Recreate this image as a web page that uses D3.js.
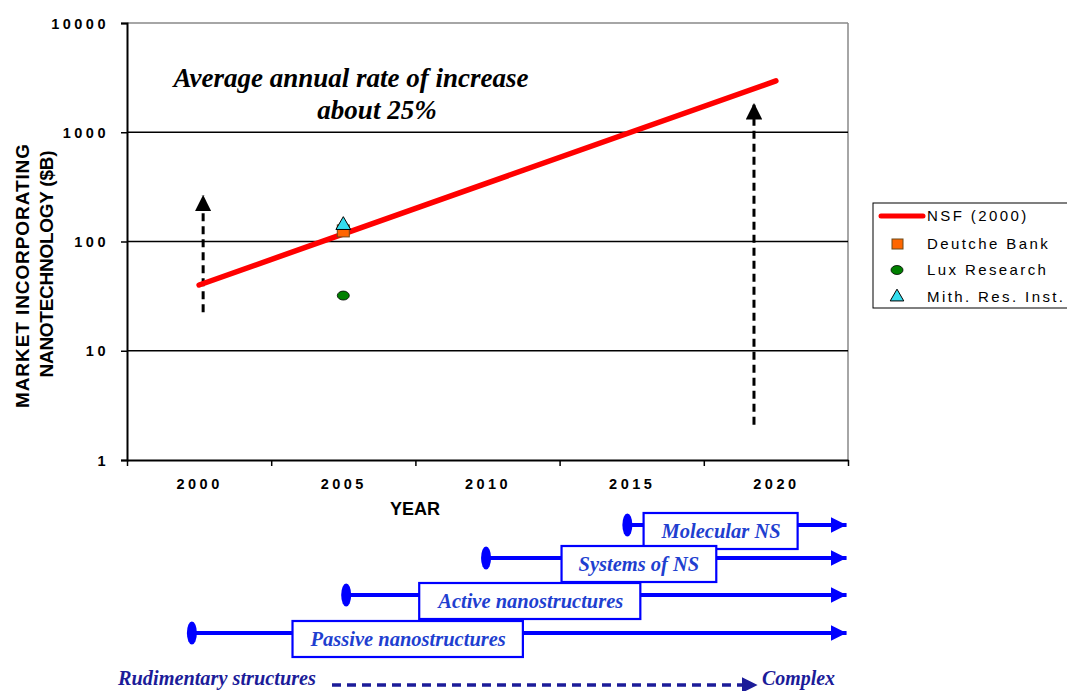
<!DOCTYPE html>
<html>
<head>
<meta charset="utf-8">
<script src="https://cdn.jsdelivr.net/npm/d3@7"></script>
<style>
  body { margin: 0; background: #fff; }
  svg { display: block; }
  .tick text { font-family: "Liberation Sans", Arial, sans-serif; font-weight: bold; font-size: 14.5px; letter-spacing: 3.5px; fill: #000; }
</style>
</head>
<body>
<div id="chart"></div>
<script>
// chart data
const yearLabels = [2000, 2005, 2010, 2015, 2020];
const yTicks = [1, 10, 100, 1000, 10000];
const gridValues = [10, 100, 1000];

const nsfYears = [2000, 2020];
const nsfValues = [40, 2950];

const deutcheBank = [{ year: 2005, value: 125 }];
const luxResearch = [{ year: 2005, value: 32 }];
const mithResInst = [{ year: 2005, value: 141 }];

// dashed uncertainty arrows
const arrowYears = [2000.14, 2019.24];
const arrowFrom = [22.5, 2.1];
const arrowTo = [267, 1850];

// nanostructure generations (timeline below chart)
const stageNames = ['Molecular NS', 'Systems of NS', 'Active nanostructures', 'Passive nanostructures'];
const stageStart = [2014.85, 2009.95, 2005.1, 1999.75];
const stageLabelAt = [2018.1, 2015.25, 2011.5, 2007.25];
const stageEnd = 2022.45;

const legendNames = ['NSF (2000)', 'Deutche Bank', 'Lux Research', 'Mith. Res. Inst.'];

const width = 1067, height = 691;
const plotLeft = 127, plotRight = 848, plotTop = 23, plotBottom = 460;

const svg = d3.select('#chart').append('svg')
    .attr('width', width)
    .attr('height', height);

const x = d3.scaleLinear().domain([1997.5, 2022.5]).range([plotLeft, plotRight]);
const y = d3.scaleLog().domain([1, 10000]).range([plotBottom, plotTop]);

// top border and right border (gray)
svg.append('line')
    .attr('x1', plotLeft).attr('x2', plotRight)
    .attr('y1', y(10000)).attr('y2', y(10000))
    .attr('stroke', '#888').attr('stroke-width', 1.5);
svg.append('line')
    .attr('x1', plotRight).attr('x2', plotRight)
    .attr('y1', plotTop).attr('y2', plotBottom)
    .attr('stroke', '#888').attr('stroke-width', 1.5);

// gridlines
svg.selectAll('.grid')
    .data(gridValues)
    .enter().append('line')
    .attr('class', 'grid')
    .attr('x1', plotLeft).attr('x2', plotRight)
    .attr('y1', d => y(d)).attr('y2', d => y(d))
    .attr('stroke', '#000').attr('stroke-width', 1.5);

// y axis
const yAxis = svg.append('g')
    .attr('transform', `translate(${plotLeft},0)`)
    .call(d3.axisLeft(y).tickValues(yTicks).tickFormat(d3.format('d')).tickSize(6).tickPadding(12));
yAxis.select('.domain').attr('stroke-width', 2);
yAxis.selectAll('.tick line').attr('stroke-width', 1.5);
yAxis.selectAll('.tick text').attr('dy', '0.36em');

// x axis: ticks between categories, labels on years
const xBounds = d3.range(0, 6).map(i => 1997.5 + i * 5);
const xAxis = svg.append('g')
    .attr('transform', `translate(0,${plotBottom})`)
    .call(d3.axisBottom(x).tickValues(xBounds).tickFormat('').tickSize(6).tickSizeOuter(0));
xAxis.select('.domain').attr('stroke-width', 2);
xAxis.selectAll('.tick line').attr('stroke-width', 1.5);

const xLabels = svg.append('g')
    .attr('transform', `translate(0,${plotBottom})`)
    .call(d3.axisBottom(x).tickValues(yearLabels).tickFormat(d3.format('d')).tickSize(0).tickPadding(19));
xLabels.select('.domain').remove();

// axis titles
svg.append('text')
    .attr('x', 415).attr('y', 515)
    .attr('text-anchor', 'middle')
    .style('font-family', '"Liberation Sans", Arial, sans-serif')
    .style('font-weight', 'bold').style('font-size', '18px')
    .text('YEAR');

const yTitle = svg.append('text')
    .attr('transform', 'translate(29,0) rotate(-90)')
    .attr('text-anchor', 'middle')
    .style('font-family', '"Liberation Sans", Arial, sans-serif')
    .style('font-weight', 'bold').style('font-size', '19px');
yTitle.append('tspan').attr('x', -276).attr('y', 0)
    .attr('textLength', 264).attr('lengthAdjust', 'spacing')
    .text('MARKET INCORPORATING');
yTitle.append('tspan').attr('x', -264).attr('y', 24)
    .attr('textLength', 227).attr('lengthAdjust', 'spacing')
    .text('NANOTECHNOLOGY ($B)');

// dashed arrows
const defs = svg.append('defs');
defs.append('marker')
    .attr('id', 'blackhead')
    .attr('viewBox', '0 0 10 10')
    .attr('refX', 10).attr('refY', 5)
    .attr('markerWidth', 5.5).attr('markerHeight', 5.5)
    .attr('markerUnits', 'strokeWidth')
    .attr('orient', 'auto')
    .append('path').attr('d', 'M0,0 L10,5 L0,10 z').attr('fill', '#000');

svg.selectAll('.uncert')
    .data(arrowYears)
    .enter().append('line')
    .attr('class', 'uncert')
    .attr('x1', d => x(d)).attr('x2', d => x(d))
    .attr('y1', (d, i) => y(arrowFrom[i]))
    .attr('y2', (d, i) => y(arrowTo[i]))
    .attr('stroke', '#000').attr('stroke-width', 3)
    .attr('stroke-dasharray', '8,5')
    .attr('marker-end', 'url(#blackhead)');

// NSF projection
const nsf = nsfYears.map((d, i) => ({ year: d, value: nsfValues[i] }));
svg.append('path')
    .datum(nsf)
    .attr('d', d3.line().x(d => x(d.year)).y(d => y(d.value)))
    .attr('fill', 'none')
    .attr('stroke', '#ff0000')
    .attr('stroke-width', 5.5)
    .attr('stroke-linecap', 'round');

// survey points
svg.selectAll('.lux')
    .data(luxResearch)
    .enter().append('ellipse')
    .attr('cx', d => x(d.year)).attr('cy', d => y(d.value))
    .attr('rx', 6).attr('ry', 4.5)
    .attr('fill', '#008000').attr('stroke', '#000').attr('stroke-width', 0.8);

svg.selectAll('.db')
    .data(deutcheBank)
    .enter().append('rect')
    .attr('x', d => x(d.year) - 6).attr('y', d => y(d.value) - 6)
    .attr('width', 12).attr('height', 12)
    .attr('fill', '#ff6600').attr('stroke', '#6b4a1a').attr('stroke-width', 1);

const tri = d3.symbol().type(d3.symbolTriangle).size(95);
svg.selectAll('.mith')
    .data(mithResInst)
    .enter().append('path')
    .attr('transform', d => `translate(${x(d.year)},${y(d.value)})`)
    .attr('d', tri)
    .attr('fill', '#33ddee').attr('stroke', '#000').attr('stroke-width', 1);

// annotation
const note = svg.append('text')
    .attr('text-anchor', 'middle')
    .style('font-family', '"Liberation Serif", "Times New Roman", serif')
    .style('font-weight', 'bold').style('font-style', 'italic')
    .style('font-size', '27px');
note.append('tspan').attr('x', 351).attr('y', 87).text('Average annual rate of increase');
note.append('tspan').attr('x', 377).attr('y', 119).text('about 25%');

// legend
const legend = svg.append('g').attr('transform', 'translate(873,203)');
legend.append('rect')
    .attr('width', 200).attr('height', 105)
    .attr('fill', '#fff').attr('stroke', '#000').attr('stroke-width', 1);

const legendRow = legend.selectAll('.legend-item')
    .data(legendNames)
    .enter().append('g')
    .attr('class', 'legend-item')
    .attr('transform', (d, i) => `translate(0,${[13, 41, 67, 94][i]})`);

legendRow.append('text')
    .attr('x', 54).attr('y', 5)
    .style('font-family', '"Liberation Sans", Arial, sans-serif')
    .style('font-size', '15px').style('letter-spacing', '2.4px')
    .text(d => d);

legendRow.filter((d, i) => i === 0).append('line')
    .attr('x1', 8).attr('x2', 50).attr('y1', 0).attr('y2', 0)
    .attr('stroke', '#ff0000').attr('stroke-width', 5).attr('stroke-linecap', 'round');
legendRow.filter((d, i) => i === 1).append('rect')
    .attr('x', 19).attr('y', -5).attr('width', 11).attr('height', 10)
    .attr('fill', '#ff6600').attr('stroke', '#6b4a1a');
legendRow.filter((d, i) => i === 2).append('ellipse')
    .attr('cx', 24).attr('cy', 0).attr('rx', 6).attr('ry', 4.5)
    .attr('fill', '#008000').attr('stroke', '#000').attr('stroke-width', 0.8);
legendRow.filter((d, i) => i === 3).append('path')
    .attr('transform', 'translate(24,0)')
    .attr('d', d3.symbol().type(d3.symbolTriangle).size(80))
    .attr('fill', '#33ddee').attr('stroke', '#000');

// timeline of nanostructure generations
const rowY = [525, 558, 595, 633];
const blue = '#0000ff';

defs.append('marker')
    .attr('id', 'bluehead')
    .attr('viewBox', '0 0 10 10')
    .attr('refX', 10).attr('refY', 5)
    .attr('markerWidth', 4).attr('markerHeight', 4)
    .attr('markerUnits', 'strokeWidth')
    .attr('orient', 'auto')
    .append('path').attr('d', 'M0,0 L10,5 L0,10 z').attr('fill', blue);

const stage = svg.selectAll('.stage')
    .data(stageNames)
    .enter().append('g')
    .attr('class', 'stage');

stage.append('line')
    .attr('x1', (d, i) => x(stageStart[i]))
    .attr('x2', x(stageEnd))
    .attr('y1', (d, i) => rowY[i]).attr('y2', (d, i) => rowY[i])
    .attr('stroke', blue).attr('stroke-width', 4)
    .attr('marker-end', 'url(#bluehead)');

stage.append('ellipse')
    .attr('cx', (d, i) => x(stageStart[i]))
    .attr('cy', (d, i) => rowY[i])
    .attr('rx', 5).attr('ry', 11.5)
    .attr('fill', blue);

const boxRect = stage.append('rect')
    .attr('fill', '#fff').attr('stroke', blue).attr('stroke-width', 2.2);

const boxText = stage.append('text')
    .attr('x', (d, i) => x(stageLabelAt[i]))
    .attr('y', (d, i) => rowY[i] + 13)
    .attr('text-anchor', 'middle')
    .style('font-family', '"Liberation Serif", "Times New Roman", serif')
    .style('font-weight', 'bold').style('font-style', 'italic')
    .style('font-size', '20.5px')
    .attr('fill', '#1f3fd0')
    .text(d => d);

boxText.each(function (d, i) {
    const bb = this.getBBox();
    d3.select(boxRect.nodes()[i])
        .attr('x', bb.x - 17)
        .attr('y', rowY[i] - 12)
        .attr('width', bb.width + 34)
        .attr('height', 36);
});

// complexity scale at bottom
const navy = '#1c1c99';
defs.append('marker')
    .attr('id', 'navyhead')
    .attr('viewBox', '0 0 10 10')
    .attr('refX', 2).attr('refY', 5)
    .attr('markerWidth', 4.5).attr('markerHeight', 4.5)
    .attr('markerUnits', 'strokeWidth')
    .attr('orient', 'auto')
    .append('path').attr('d', 'M0,0 L10,5 L0,10 z').attr('fill', navy);

svg.append('text')
    .attr('x', 118).attr('y', 685)
    .attr('textLength', 198).attr('lengthAdjust', 'spacingAndGlyphs')
    .style('font-family', '"Liberation Serif", "Times New Roman", serif')
    .style('font-weight', 'bold').style('font-style', 'italic')
    .style('font-size', '21px')
    .attr('fill', navy)
    .text('Rudimentary structures');

svg.append('line')
    .attr('x1', 332).attr('x2', 745)
    .attr('y1', 685).attr('y2', 685)
    .attr('stroke', navy).attr('stroke-width', 3.5)
    .attr('stroke-dasharray', '9,6')
    .attr('marker-end', 'url(#navyhead)');

svg.append('text')
    .attr('x', 762).attr('y', 685)
    .attr('textLength', 73).attr('lengthAdjust', 'spacingAndGlyphs')
    .style('font-family', '"Liberation Serif", "Times New Roman", serif')
    .style('font-weight', 'bold').style('font-style', 'italic')
    .style('font-size', '21px')
    .attr('fill', navy)
    .text('Complex');
</script>
</body>
</html>
